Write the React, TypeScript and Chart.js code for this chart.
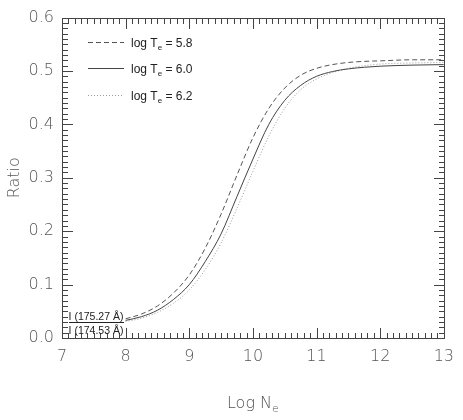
import React, { useEffect, useRef } from "react";
import { Chart, registerables } from "chart.js";

Chart.register(...registerables);

const logNe = [8.0, 8.25, 8.5, 8.75, 9.0, 9.25, 9.5, 9.75, 10.0, 10.25, 10.5, 10.75, 11.0, 11.25, 11.5, 11.75, 12.0, 12.5, 13.0];
const ratioT58 = [0.036, 0.045, 0.060, 0.084, 0.118, 0.168, 0.232, 0.305, 0.375, 0.430, 0.468, 0.492, 0.505, 0.512, 0.516, 0.518, 0.519, 0.521, 0.521];
const ratioT60 = [0.033, 0.040, 0.052, 0.072, 0.100, 0.143, 0.195, 0.265, 0.335, 0.400, 0.445, 0.473, 0.490, 0.499, 0.504, 0.507, 0.509, 0.511, 0.512];
const ratioT62 = [0.031, 0.037, 0.048, 0.065, 0.090, 0.128, 0.178, 0.243, 0.312, 0.378, 0.430, 0.465, 0.485, 0.497, 0.505, 0.510, 0.513, 0.515, 0.516];
const seriesLabels = ["5.8", "6.0", "6.2"];
const xTicks = [7, 8, 9, 10, 11, 12, 13];
const yTicks = [0.0, 0.1, 0.2, 0.3, 0.4, 0.5, 0.6];

const AXIS_COLOR = "#555";
const TICK_COLOR = "#444";
const AXIS_FONT = "'DejaVu Sans', sans-serif";
const LEG_FONT = "'Liberation Sans Narrow', 'Liberation Sans', sans-serif";

const toPts = (ys: number[]) => logNe.map((x, i) => ({ x, y: ys[i] }));

const framePlugin = {
  id: "frame",
  afterDraw(chart: any) {
    const { ctx, chartArea: a, scales } = chart;
    const xs = scales.x, ys = scales.y;
    const L = Math.round(a.left), R = Math.round(a.right), T = Math.round(a.top), B = Math.round(a.bottom);
    ctx.save();
    ctx.setLineDash([]);
    ctx.fillStyle = TICK_COLOR;
    ctx.fillRect(L, T, R - L + 1, 1);
    ctx.fillRect(L, B, R - L + 1, 1);
    ctx.fillRect(L, T, 1, B - T + 1);
    ctx.fillRect(R, T, 1, B - T + 1);
    for (let i = 0; i <= 60; i++) {
      const px = Math.round(xs.getPixelForValue(7 + i / 10));
      const len = i % 10 === 0 ? 10 : 5;
      ctx.fillRect(px, B - len, 1, len);
      ctx.fillRect(px, T + 1, 1, len);
    }
    for (let i = 0; i <= 60; i++) {
      const py = Math.round(ys.getPixelForValue(i / 100));
      const len = i % 10 === 0 ? 10 : 5;
      ctx.fillRect(L + 1, py, len, 1);
      ctx.fillRect(R - len, py, len, 1);
    }

    ctx.fillStyle = AXIS_COLOR;
    ctx.textBaseline = "alphabetic";
    const big = `200 16px ${AXIS_FONT}`;
    const small = `200 11px ${AXIS_FONT}`;
    ctx.font = big;
    const main = "Log N";
    const w1 = ctx.measureText(main).width;
    ctx.font = small;
    const w2 = ctx.measureText("e").width;
    const cx = (a.left + a.right) / 2;
    const tx = cx - (w1 + w2) / 2;
    const ty = 408;
    ctx.font = big;
    ctx.textAlign = "left";
    ctx.fillText(main, tx, ty);
    ctx.font = small;
    ctx.fillText("e", tx + w1, ty + 4);

    const dsList = chart.data.datasets;
    const legY = [42, 68, 95];
    dsList.forEach((ds: any, i: number) => {
      const y = legY[i] + 0.5;
      ctx.save();
      ctx.strokeStyle = ds.borderColor;
      ctx.lineWidth = 1;
      ctx.setLineDash(ds.borderDash || []);
      ctx.beginPath();
      ctx.moveTo(88, y); ctx.lineTo(124, y);
      ctx.stroke();
      ctx.restore();
      ctx.fillStyle = "#222";
      ctx.font = `12px ${LEG_FONT}`;
      const p1 = "log T";
      ctx.fillText(p1, 131, y + 4);
      const pw = ctx.measureText(p1).width;
      ctx.font = `8px ${LEG_FONT}`;
      ctx.fillText("e", 131 + pw, y + 7);
      const ew = ctx.measureText("e").width;
      ctx.font = `12px ${LEG_FONT}`;
      ctx.fillText(" = " + seriesLabels[i], 131 + pw + ew, y + 4);
    });

    ctx.fillStyle = "#222";
    ctx.font = `10.5px ${LEG_FONT}`;
    ctx.textAlign = "center";
    const fx = 96;
    ctx.fillText("I (175.27 Å)", fx, B - 18);
    ctx.fillText("I (174.53 Å)", fx, B - 4);
    ctx.fillRect(69, B - 16, 55, 1);
    ctx.restore();
  },
};

export default function App() {
  const ref = useRef<HTMLCanvasElement>(null);
  useEffect(() => {
    document.body.style.margin = "0";
    const chart = new Chart(ref.current!, {
      type: "line",
      data: {
        datasets: [
          { label: "log Te = 5.8", data: toPts(ratioT58), borderColor: "#555", borderWidth: 1, borderDash: [5, 3], pointRadius: 0, cubicInterpolationMode: "monotone", fill: false },
          { label: "log Te = 6.0", data: toPts(ratioT60), borderColor: "#444", borderWidth: 1, borderDash: [], pointRadius: 0, cubicInterpolationMode: "monotone", fill: false },
          { label: "log Te = 6.2", data: toPts(ratioT62), borderColor: "#999", borderWidth: 1, borderDash: [1, 2], pointRadius: 0, cubicInterpolationMode: "monotone", fill: false },
        ],
      },
      options: {
        animation: false,
        responsive: false,
        maintainAspectRatio: false,
        layout: { padding: { left: 0, right: 16, top: 15, bottom: 0 } },
        plugins: { legend: { display: false }, tooltip: { enabled: false } },
        scales: {
          x: {
            type: "linear", min: 7, max: 13,
            afterFit: (s: any) => { s.height = 82; },
            afterBuildTicks: (s: any) => { s.ticks = xTicks.map((v) => ({ value: v })); },
            grid: { display: false, drawTicks: false },
            border: { display: false },
            ticks: { color: AXIS_COLOR, padding: 9, font: { family: AXIS_FONT, size: 16, weight: "200" }, callback: (v: any) => String(v) },
          },
          y: {
            type: "linear", min: 0, max: 0.6,
            afterFit: (s: any) => { s.width = 62; },
            afterBuildTicks: (s: any) => { s.ticks = yTicks.map((v) => ({ value: v })); },
            grid: { display: false, drawTicks: false },
            border: { display: false },
            title: { display: true, text: "Ratio", color: AXIS_COLOR, padding: { top: 5, bottom: 0 }, font: { family: AXIS_FONT, size: 16, weight: "200" } },
            ticks: { color: AXIS_COLOR, padding: 8, font: { family: AXIS_FONT, size: 16, weight: "200" }, callback: (v: any) => Number(v).toFixed(1) },
          },
        },
      },
      plugins: [framePlugin],
    } as any);
    return () => chart.destroy();
  }, []);
  return (
    <div style={{ width: 463, height: 420, background: "#fff" }}>
      <canvas ref={ref} width={463} height={420} style={{ display: "block" }} />
    </div>
  );
}
